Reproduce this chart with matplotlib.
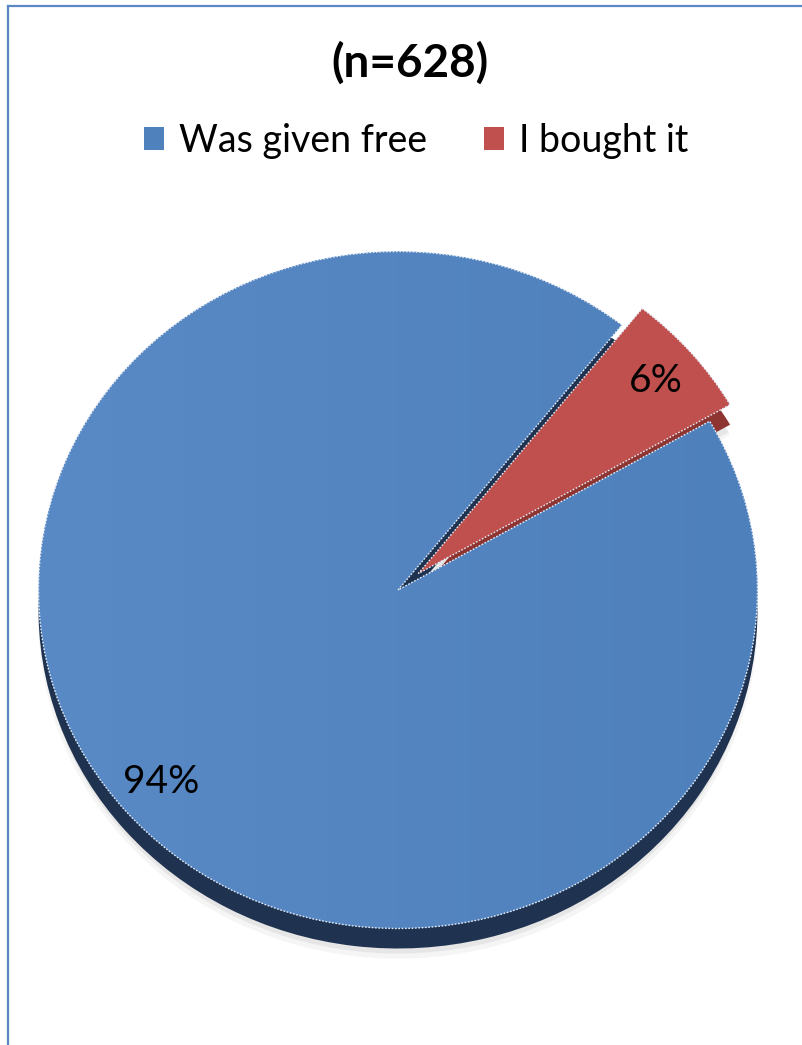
import numpy as np
import matplotlib
matplotlib.use('Agg')
import matplotlib.pyplot as plt
from matplotlib.lines import Line2D
from matplotlib.colors import LinearSegmentedColormap

# ---- data ----
title = "(n=628)"
categories = ["Was given free", "I bought it"]
values = [94, 6]
colors = ["#4f81bd", "#c0504d"]
side_colors = ["#1f3350", "#8e3532"]
explode = [0, 0.075]

plt.rcParams['font.family'] = ['Lato', 'DejaVu Sans']

W, H = 802, 1045
fig = plt.figure(figsize=(W / 100, H / 100), dpi=100)
ax = fig.add_axes([0, 0, 1, 1])

# pie geometry in pixels (ellipse, slight 3D tilt)
cx, cy = 398, 590      # centre, y from top
rx, ry = 359.5, 338.5  # half axes
depth = 20 / ry
start = 51.5

# soft shadow
for a, s, off in [(0.07, 1.0, 0.03), (0.12, 0.995, 0.02)]:
    ax.pie(values, explode=explode, startangle=start, colors=['#7a7a7a'] * 2,
           radius=s, center=(0, -depth - off),
           wedgeprops=dict(linewidth=0, alpha=a))

# side (depth) of the pie
ax.pie(values, explode=explode, startangle=start, colors=side_colors,
       center=(0, -depth), wedgeprops=dict(linewidth=0))

# top face
wedges, texts, autotexts = ax.pie(
    values, explode=explode, startangle=start, colors=colors,
    autopct='%.0f%%', pctdistance=0.87,
    wedgeprops=dict(linewidth=0),
    textprops=dict(fontsize=28, color='black'))
for t in autotexts:
    t.set_zorder(5)

# subtle horizontal gradient on the blue face
grad = np.linspace(0, 1, 256).reshape(1, -1)
cmap = LinearSegmentedColormap.from_list('g', ['#5a8ac6', '#4e80bc'])
img = ax.imshow(grad, extent=(-1, 1, -1, 1), cmap=cmap, aspect='auto',
                zorder=2, interpolation='bilinear')
img.set_clip_path(wedges[0])

# light dotted edges
ax.pie(values, explode=explode, startangle=start,
       wedgeprops=dict(fill=False, edgecolor='#e4ebf5', linewidth=1.0,
                       linestyle=(0, (1.2, 1.2)), zorder=3))

ax.set_aspect('auto')
ax.set_xlim(-cx / rx, (W - cx) / rx)
ycb = H - cy
ax.set_ylim(-ycb / ry, (H - ycb) / ry)
ax.axis('off')

# title
fig.text(410 / W, 1 - 63 / H, title, ha='center', va='center',
         fontsize=33, fontweight='bold')

# legend
ax.legend(wedges, categories, ncol=2, loc='center',
          bbox_to_anchor=(416 / W, 1 - 141 / H), bbox_transform=fig.transFigure,
          frameon=False, fontsize=27, handlelength=0.55, handleheight=0.55,
          handletextpad=0.4, columnspacing=1.5)

# chart-area border (left and top visible)
bc = '#5b87c5'
fig.add_artist(Line2D([7.5 / W, 7.5 / W], [0, 1 - 5.5 / H], transform=fig.transFigure,
                      color=bc, linewidth=1.6))
fig.add_artist(Line2D([7.5 / W, 1], [1 - 5.5 / H, 1 - 5.5 / H], transform=fig.transFigure,
                      color=bc, linewidth=1.6))

fig.savefig('out.png', dpi=100, facecolor='white')
